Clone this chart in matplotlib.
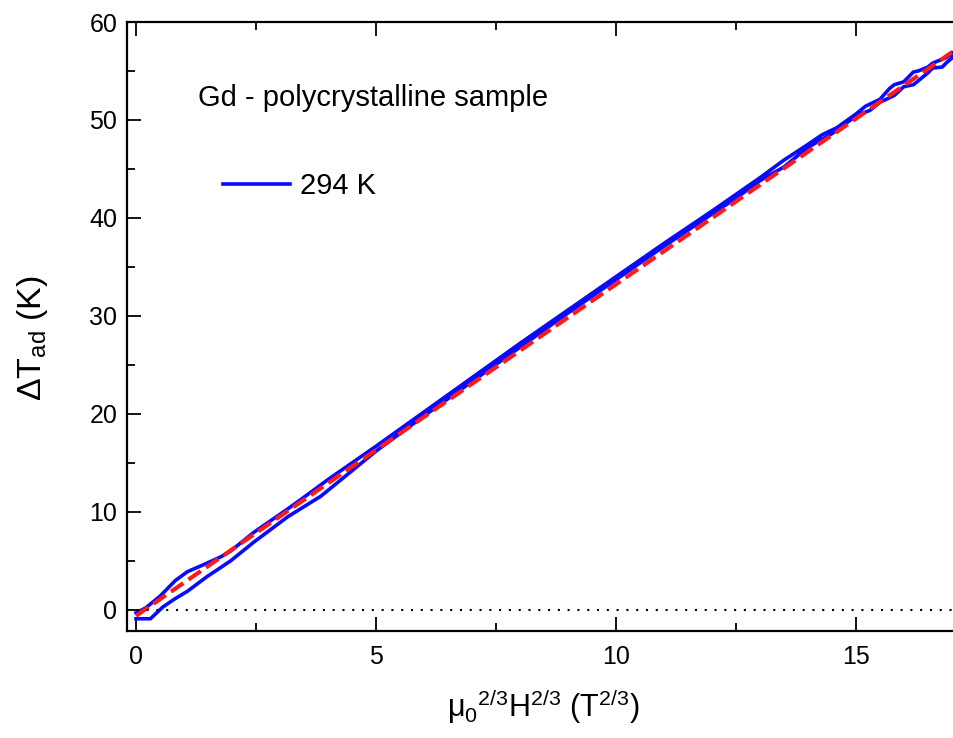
import numpy as np
import matplotlib
matplotlib.use('Agg')
import matplotlib.pyplot as plt
from matplotlib.ticker import MultipleLocator

plt.rcParams['font.family'] = ['Liberation Sans', 'DejaVu Sans']
plt.rcParams['mathtext.fontset'] = 'custom'
plt.rcParams['mathtext.rm'] = 'Liberation Sans'
plt.rcParams['mathtext.it'] = 'Liberation Sans:italic'

# measured curve, field increasing (lower branch)
x_up = [0.0, 0.05, 0.3, 0.56, 0.8, 1.07, 1.48, 1.97, 2.45, 3.16, 3.85, 4.5, 5.0,
        6.0, 7.0, 8.0, 9.0, 10.0, 11.0, 12.0, 12.5, 13.0, 13.5, 14.0, 14.5, 15.0,
        15.3, 15.5, 15.8, 16.0, 16.2, 16.3, 16.5, 16.6, 16.8, 16.9, 17.0]
y_up = [-0.9, -0.9, -0.9, 0.3, 1.1, 1.9, 3.4, 5.0, 6.9, 9.5, 11.6, 14.2, 16.2,
        19.8, 23.3, 26.8, 30.3, 33.7, 37.1, 40.4, 42.0, 43.8, 45.2, 47.2, 48.6, 50.4,
        51.0, 51.8, 52.5, 53.4, 53.6, 54.0, 54.8, 55.3, 55.4, 55.9, 56.3]
# field decreasing (upper branch)
x_down = [17.0, 16.9, 16.8, 16.6, 16.5, 16.3, 16.2, 16.0, 15.8, 15.7, 15.5, 15.2,
          15.0, 14.6, 14.3, 14.0, 13.5, 13.0, 12.0, 11.0, 10.0, 9.0, 8.0, 7.0, 6.0,
          5.0, 4.5, 4.0, 3.5, 3.16, 2.45, 1.97, 1.76, 1.4, 1.07, 0.82, 0.5, 0.2, 0.0]
y_down = [56.9, 56.4, 56.2, 55.8, 55.4, 55.0, 54.9, 53.9, 53.6, 53.2, 52.1, 51.4,
          50.6, 49.2, 48.5, 47.5, 45.9, 44.1, 40.7, 37.4, 34.0, 30.6, 27.2, 23.7,
          20.2, 16.7, 15.0, 13.3, 11.5, 10.3, 7.9, 6.0, 5.4, 4.6, 3.9, 3.0, 1.4, 0.2, -0.3]

# linear fit
x_fit = [0.0, 17.0]
y_fit = [-0.6, 56.9]

fig = plt.figure(figsize=(9.54, 7.38), dpi=100)
ax = fig.add_axes([127 / 954, 1 - 631 / 738, 832 / 954, 609 / 738])

ax.plot(x_up + x_down, y_up + y_down, color='#0a0aff', lw=2.6, label='294 K')
ax.plot(x_fit, y_fit, color='#ff1a1a', lw=3.0, ls=(0, (3.6, 1.5)))
ax.axhline(0, color='black', lw=1.5, ls=(0, (1, 3.7)))

ax.set_xlim(-0.1875, 17.15)
ax.set_ylim(-2.15, 60)
ax.xaxis.set_major_locator(MultipleLocator(5))
ax.xaxis.set_minor_locator(MultipleLocator(2.5))
ax.yaxis.set_major_locator(MultipleLocator(10))
ax.yaxis.set_minor_locator(MultipleLocator(5))
ax.tick_params(which='both', direction='in', top=True, right=False, width=1.3,
               labelsize=18)
ax.tick_params(axis='x', pad=10)
ax.tick_params(axis='y', pad=7)
ax.tick_params(which='major', length=10)
ax.tick_params(which='minor', length=6)
for s in ax.spines.values():
    s.set_linewidth(1.6)

ax.set_xlabel('μ$_0{}^{2/3}$H$^{2/3}$ (T$^{2/3}$)', fontsize=22, labelpad=13)
ax.set_ylabel(r'$\Delta$T$_{\rm ad}$ (K)', fontsize=24.5)
ax.yaxis.set_label_coords(-0.093, 0.481)

ax.text(198 / 954, 1 - 98 / 738, 'Gd - polycrystalline sample',
        transform=fig.transFigure, fontsize=21, va='center')
ax.legend(loc='center left', bbox_to_anchor=(223 / 954, 1 - 186 / 738),
          bbox_transform=fig.transFigure, frameon=False, fontsize=21,
          handlelength=2.3, handletextpad=0.35, borderpad=0, borderaxespad=0)

fig.savefig('out.png', dpi=100)
